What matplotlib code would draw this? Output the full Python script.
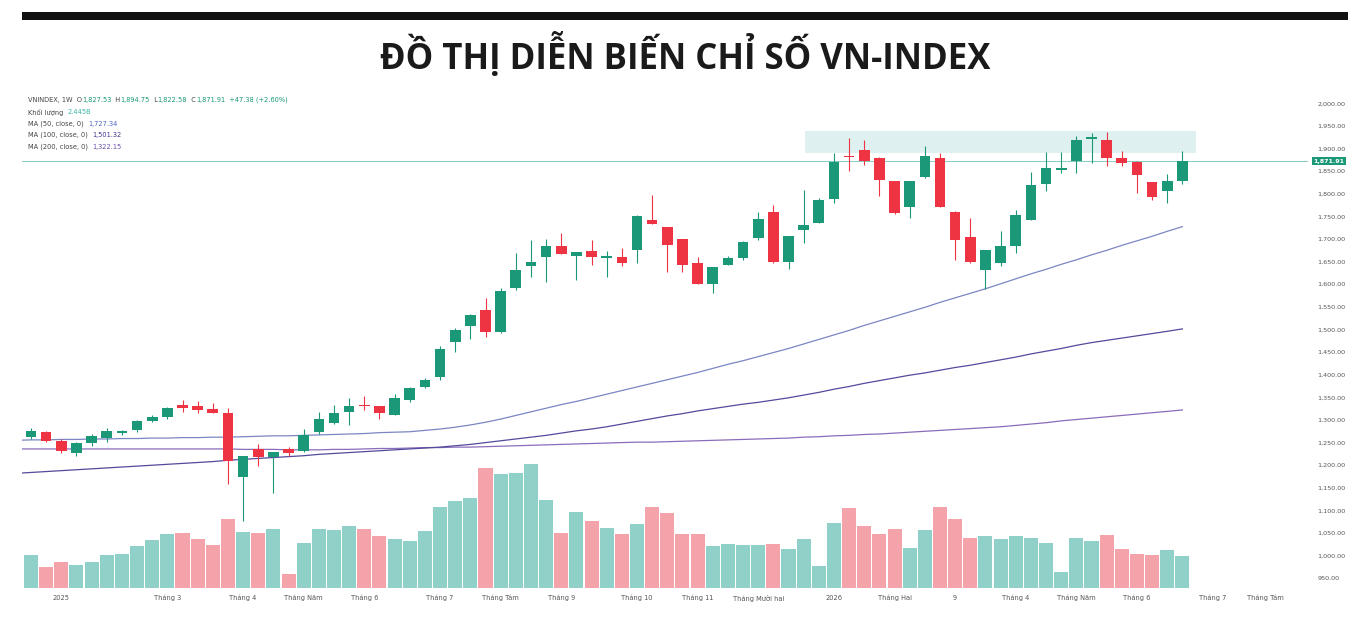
import matplotlib
matplotlib.use('Agg')
import matplotlib.pyplot as plt
from matplotlib.patches import Rectangle
import numpy as np

# ---------------- data ----------------
opens = [1262, 1274, 1253, 1226, 1249, 1260, 1272, 1278, 1298, 1307,
         1333, 1332, 1324, 1315, 1173, 1236, 1219, 1236, 1232, 1273,
         1293, 1317, 1332, 1330, 1312, 1344, 1374, 1394, 1472, 1508,
         1543, 1494, 1591, 1640, 1661, 1685, 1662, 1674, 1657, 1660,
         1676, 1742, 1726, 1699, 1648, 1600, 1643, 1657, 1702, 1760,
         1650, 1720, 1736, 1788, 1884, 1897, 1880, 1828, 1770, 1836,
         1878, 1760, 1704, 1632, 1648, 1685, 1742, 1822, 1853, 1873,
         1921, 1919, 1880, 1871, 1825, 1806, 1827.53]
highs = [1282, 1276, 1259, 1252, 1270, 1282, 1278, 1301, 1312, 1329,
         1344, 1343, 1338, 1326, 1221, 1246, 1230, 1241, 1279, 1317,
         1333, 1348, 1353, 1332, 1357, 1373, 1392, 1464, 1503, 1534,
         1569, 1591, 1670, 1698, 1699, 1714, 1671, 1698, 1674, 1681,
         1752, 1797, 1727, 1701, 1660, 1638, 1663, 1696, 1760, 1775,
         1707, 1808, 1790, 1891, 1923, 1919, 1881, 1829, 1829, 1906,
         1890, 1761, 1746, 1676, 1718, 1764, 1849, 1892, 1892, 1928,
         1934, 1937, 1895, 1872, 1825, 1844, 1894.75]
lows = [1257, 1252, 1228, 1221, 1242, 1251, 1267, 1274, 1296, 1302,
        1318, 1316, 1315, 1158, 1077, 1198, 1138, 1220, 1230, 1270,
        1291, 1290, 1322, 1302, 1311, 1340, 1370, 1388, 1451, 1478,
        1483, 1492, 1587, 1615, 1606, 1666, 1609, 1643, 1617, 1640,
        1646, 1733, 1626, 1626, 1600, 1581, 1642, 1654, 1698, 1646,
        1633, 1691, 1735, 1779, 1851, 1864, 1795, 1756, 1746, 1835,
        1770, 1654, 1648, 1589, 1640, 1668, 1741, 1807, 1845, 1845,
        1869, 1861, 1861, 1802, 1786, 1779, 1822.58]
closes = [1276, 1254, 1231, 1250, 1265, 1276, 1276, 1298, 1307, 1326,
          1326, 1322, 1316, 1210, 1220, 1218, 1230, 1226, 1267, 1302,
          1315, 1332, 1330, 1316, 1349, 1371, 1388, 1458, 1498, 1532,
          1495, 1586, 1632, 1649, 1685, 1667, 1671, 1661, 1663, 1648,
          1751, 1733, 1686, 1643, 1601, 1638, 1657, 1693, 1745, 1650,
          1707, 1731, 1786, 1871, 1882, 1873, 1831, 1757, 1828, 1884,
          1770, 1698, 1649, 1676, 1685, 1752, 1819, 1856, 1856, 1918,
          1925, 1880, 1867, 1842, 1792, 1828, 1871.91]
# weekly volume, billion shares
volume = [2.57, 1.60, 2.01, 1.80, 2.01, 2.52, 2.63, 3.27, 3.73, 4.14,
          4.25, 3.78, 3.35, 5.33, 4.35, 4.22, 4.56, 1.11, 3.50, 4.58,
          4.50, 4.79, 4.56, 4.02, 3.78, 3.66, 4.40, 6.25, 6.74, 6.95,
          9.24, 8.78, 8.91, 9.60, 6.80, 4.25, 5.87, 5.17, 4.61, 4.14,
          4.94, 6.25, 5.77, 4.20, 4.17, 3.27, 3.42, 3.29, 3.35, 3.42,
          3.04, 3.78, 1.70, 4.99, 6.18, 4.81, 4.17, 4.58, 3.11, 4.45,
          6.25, 5.35, 3.89, 4.02, 3.81, 4.04, 3.84, 3.50, 1.26, 3.86,
          3.66, 4.07, 3.01, 2.63, 2.52, 2.91, 2.445]
# moving averages, starting one week before the first candle
ma50 = [1255, 1256, 1256, 1257, 1257, 1258, 1258, 1259, 1259, 1260, 1260,
        1261, 1261, 1262, 1262, 1263, 1264, 1265, 1265, 1266, 1267,
        1268, 1269, 1270, 1272, 1273, 1274, 1277, 1280, 1284, 1289,
        1295, 1302, 1310, 1318, 1326, 1334, 1341, 1349, 1357,
        1365, 1373, 1381, 1389, 1397, 1405, 1414, 1423, 1431, 1440,
        1449, 1458, 1468, 1478, 1488, 1498, 1509, 1519, 1529, 1539,
        1549, 1560, 1570, 1580, 1590, 1601, 1612, 1623, 1633, 1644,
        1654, 1665, 1675, 1686, 1696, 1706, 1717, 1727.34]
ma100 = [1182, 1184, 1186, 1188, 1190, 1192, 1194, 1196, 1198, 1200, 1202,
         1204, 1206, 1208, 1211, 1213, 1215, 1217, 1219, 1221, 1224,
         1226, 1228, 1230, 1232, 1234, 1236, 1238, 1240, 1243, 1246,
         1250, 1254, 1258, 1262, 1266, 1271, 1276, 1280, 1285,
         1291, 1297, 1303, 1309, 1314, 1320, 1325, 1330, 1335, 1339,
         1344, 1349, 1355, 1361, 1368, 1374, 1381, 1387, 1393, 1399,
         1404, 1410, 1416, 1421, 1427, 1433, 1439, 1446, 1452, 1458,
         1465, 1471, 1476, 1481, 1486, 1491, 1496, 1501.32]
ma200 = [1236, 1236, 1236, 1236, 1236, 1236, 1236, 1236, 1236, 1236, 1236,
         1236, 1236, 1236, 1236, 1235, 1235, 1235, 1234, 1234, 1234,
         1235, 1235, 1236, 1237, 1237, 1238, 1239, 1239, 1240, 1240,
         1241, 1242, 1243, 1244, 1245, 1246, 1247, 1248, 1249,
         1250, 1251, 1251, 1252, 1253, 1254, 1255, 1256, 1257, 1258,
         1259, 1260, 1262, 1263, 1265, 1266, 1268, 1269, 1271, 1273,
         1275, 1277, 1279, 1281, 1283, 1285, 1288, 1291, 1294, 1298,
         1301, 1304, 1307, 1310, 1313, 1316, 1319, 1322.15]

tick_weeks = [2, 9, 14, 18, 22, 27, 31, 35, 40, 44, 48, 53, 57, 61, 65, 69, 73, 78, 81.5]
tick_labels = ['2025', 'Tháng 3', 'Tháng 4', 'Tháng Năm', 'Tháng 6', 'Tháng 7',
               'Tháng Tám', 'Tháng 9', 'Tháng 10', 'Tháng 11', 'Tháng Mười hai',
               '2026', 'Tháng Hai', '9', 'Tháng 4', 'Tháng Năm', 'Tháng 6',
               'Tháng 7', 'Tháng Tám']
price_ticks = list(range(950, 2001, 50))

# resistance zone (weeks, price)
zone_week_start, zone_week_end = 51.1, 76.9
zone_low, zone_high = 1890, 1939

title = 'ĐỒ THỊ DIỄN BIẾN CHỈ SỐ VN-INDEX'

# ---------------- style ----------------
UP = '#1a9878'
DOWN = '#ee3343'
VUP = '#8fd1c8'
VDOWN = '#f5a3aa'
C50, C100, C200 = '#7b86c2', '#544a9c', '#8a6cba'

W, H = 1366, 625
fig = plt.figure(figsize=(W / 100, H / 100), dpi=100)
fig.patch.set_facecolor('white')

def fx(px):
    return px / W

def fy(py):
    return 1 - py / H

L, R, T, B = 22, 1308, 90, 588
rect = [fx(L), fy(B), fx(R) - fx(L), fy(T) - fy(B)]

n = len(closes)
x = np.arange(n)
o = np.array(opens, float)
c = np.array(closes, float)
h = np.array(highs, float)
lo = np.array(lows, float)
up = c >= o

xlim = ((L - 31) / 15.15, (R - 31) / 15.15)

# volume axes (behind)
axv = fig.add_axes(rect)
axv.bar(x, volume, width=0.93, color=[VUP if u else VDOWN for u in up],
        linewidth=0)
axv.set_ylim(0, 38.45)
axv.set_xlim(*xlim)
axv.axis('off')

# price axes
ax = fig.add_axes(rect)
ax.set_facecolor('none')
ax.set_xlim(*xlim)
ax.set_ylim(928.6, 2029.4)
for s in ax.spines.values():
    s.set_visible(False)

# resistance zone
ax.add_patch(Rectangle((zone_week_start, zone_low), zone_week_end - zone_week_start,
                       zone_high - zone_low, facecolor='#d9efee', edgecolor='none',
                       alpha=0.85, zorder=0))
# last price line
ax.axhline(c[-1], color='#86cbc2', lw=0.7, zorder=1)

# moving averages
xm = np.arange(-1, n)
ax.plot(xm, ma200, color=C200, lw=0.9, zorder=2)
ax.plot(xm, ma100, color=C100, lw=0.9, zorder=2)
ax.plot(xm, ma50, color=C50, lw=0.9, zorder=2)

# candles
cols = [UP if u else DOWN for u in up]
ax.vlines(x, lo, h, colors=cols, lw=0.8, zorder=3)
body_b = np.minimum(o, c)
body_h = np.maximum(np.abs(c - o), 2.5)
ax.bar(x, body_h, bottom=body_b, width=0.7, color=cols, linewidth=0, zorder=4)

# axes ticks
ax.yaxis.tick_right()
ax.set_yticks(price_ticks)
ax.set_yticklabels([f'{v:,.2f}' for v in price_ticks], fontsize=4.6, color='#555555')
ax.tick_params(axis='y', length=0, pad=7)
ax.set_xticks(tick_weeks)
ax.set_xticklabels(tick_labels, fontsize=4.8, color='#555555')
ax.tick_params(axis='x', length=0, pad=5)

# last price tag
ax.text(1.004, c[-1], f'{c[-1]:,.2f}', transform=ax.get_yaxis_transform(),
        ha='left', va='center', fontsize=4.6, color='white', fontweight='bold',
        bbox=dict(boxstyle='square,pad=0.25', facecolor=UP, edgecolor='none'),
        clip_on=False, zorder=6)

# top black bar and title
fig.add_artist(Rectangle((fx(22), fy(20)), fx(1348) - fx(22), fy(12) - fy(20),
                         transform=fig.transFigure, facecolor='#111111',
                         edgecolor='none'))
fig.text(fx(685), fy(69), title, ha='center', va='baseline', fontsize=25,
         fontweight='bold', family='Open Sans', color='#1a1a1a')

# legend-like info lines
fig.canvas.draw()
renderer = fig.canvas.get_renderer()
DARK = '#444444'
VAL = '#1a9878'

def chain(px, py, parts, size=4.8):
    xx = fx(px)
    for txt, col in parts:
        t = fig.text(xx, fy(py), txt, fontsize=size, color=col, va='center',
                     ha='left', family='DejaVu Sans')
        bb = t.get_window_extent(renderer=renderer)
        xx = bb.x1 / W

chain(28, 100, [('VNINDEX, 1W  O', DARK), (f'{opens[-1]:,.2f}', VAL),
                ('  H', DARK), (f'{highs[-1]:,.2f}', VAL),
                ('  L', DARK), (f'{lows[-1]:,.2f}', VAL),
                ('  C', DARK), (f'{closes[-1]:,.2f}', VAL),
                (f'  +{closes[-1] - 1824.53:.2f} (+2.60%)', VAL)])
chain(28, 112, [('Khối lượng  ', DARK), (f'{volume[-1]:.3f}B', '#3bb3a3')])
chain(28, 124, [('MA (50, close, 0)  ', DARK), (f'{ma50[-1]:,.2f}', '#4f66c4')])
chain(28, 135, [('MA (100, close, 0)  ', DARK), (f'{ma100[-1]:,.2f}', '#3f3890')])
chain(28, 147, [('MA (200, close, 0)  ', DARK), (f'{ma200[-1]:,.2f}', '#6a4fa8')])

fig.savefig('out.png', dpi=100, facecolor='white')
